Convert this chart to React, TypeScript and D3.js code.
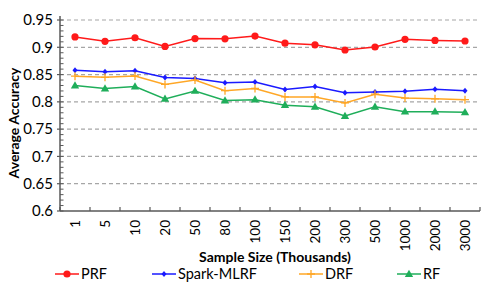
import React from 'react'
import * as d3 from 'd3'

const categories = ['1', '5', '10', '20', '50', '80', '100', '150', '200', '300', '500', '1000', '2000', '3000']
const prf = [0.919, 0.911, 0.9175, 0.9015, 0.916, 0.9155, 0.9205, 0.9075, 0.9045, 0.895, 0.9005, 0.9145, 0.9125, 0.9115]
const sparkMlrf = [0.858, 0.855, 0.857, 0.8445, 0.843, 0.835, 0.8365, 0.8225, 0.828, 0.8165, 0.818, 0.8195, 0.823, 0.8205]
const drf = [0.847, 0.845, 0.8475, 0.832, 0.84, 0.8205, 0.8245, 0.809, 0.809, 0.798, 0.814, 0.807, 0.8055, 0.804]
const rf = [0.83, 0.8245, 0.828, 0.8055, 0.82, 0.8025, 0.804, 0.794, 0.791, 0.774, 0.791, 0.782, 0.782, 0.781]
const yTicks = [0.6, 0.65, 0.7, 0.75, 0.8, 0.85, 0.9, 0.95]

const series = [
  { name: 'PRF', values: prf, color: '#ff1a1a', marker: 'circle' },
  { name: 'Spark-MLRF', values: sparkMlrf, color: '#1a1aff', marker: 'diamond' },
  { name: 'DRF', values: drf, color: '#ffa726', marker: 'plus' },
  { name: 'RF', values: rf, color: '#1fae5a', marker: 'triangle' },
]
const legendX = [55, 152, 299, 397]

const font = 'Lato, "Open Sans", sans-serif'

const Marker = ({ type, x, y, color }: { type: string; x: number; y: number; color: string }) => {
  if (type === 'circle') return <circle cx={x} cy={y} r={3.6} fill={color} />
  if (type === 'diamond')
    return <path d={`M${x},${y - 3}L${x + 2.5},${y}L${x},${y + 3}L${x - 2.5},${y}Z`} fill={color} />
  if (type === 'plus')
    return <path d={`M${x - 4},${y}H${x + 4}M${x},${y - 4}V${y + 4}`} stroke={color} strokeWidth={1.3} />
  return <path d={d3.symbol(d3.symbolTriangle, 30)()!} transform={`translate(${x},${y + 0.5})`} fill={color} />
}

export default function App() {
  const W = 485
  const H = 286
  const left = 60
  const right = 480
  const top = 20
  const bottom = 211
  const x = d3.scaleBand().domain(categories).range([left, right])
  const y = d3.scaleLinear().domain([0.6, 0.95]).range([bottom, top])
  const minor = d3.range(0.6, 0.9501, 0.01)
  const line = d3
    .line<number>()
    .x((_, i) => x(categories[i])! + x.bandwidth() / 2)
    .y((d) => y(d))

  return (
    <svg width={W} height={H} style={{ position: 'absolute', left: 0, top: 0 }} fontFamily={font}>
      {yTicks.slice(1).map((t) => (
        <line key={t} x1={left} x2={right} y1={y(t)} y2={y(t)} stroke="#a6a6a6" strokeWidth={1.2} strokeDasharray="4,3" />
      ))}
      {minor.map((t, i) => (
        <line key={i} x1={left} x2={left + 3.5} y1={y(t)} y2={y(t)} stroke="#595959" strokeWidth={1} />
      ))}
      {yTicks.map((t) => (
        <g key={t}>
          <line x1={left - 3} x2={left} y1={y(t)} y2={y(t)} stroke="#595959" strokeWidth={1.2} />
          <text x={left - 7} y={y(t)} dy="0.35em" textAnchor="end" fontSize={15} fill="#000">
            {t}
          </text>
        </g>
      ))}
      <line x1={left} x2={left} y1={top - 4} y2={bottom} stroke="#595959" strokeWidth={1.5} />
      <line x1={left} x2={right} y1={bottom} y2={bottom} stroke="#595959" strokeWidth={1.5} />
      {categories.concat(['']).map((c, i) => {
        const tx = left + i * x.bandwidth()
        return <line key={i} x1={tx} x2={tx} y1={bottom} y2={bottom - 4} stroke="#595959" strokeWidth={1.2} />
      })}
      {categories.map((c) => {
        const cx = x(c)! + x.bandwidth() / 2
        return (
          <text key={c} transform={`translate(${cx + 5},${220}) rotate(-90)`} textAnchor="end" fontSize={13.5} fill="#000">
            {c}
          </text>
        )
      })}
      <text transform={`translate(19,123) rotate(-90)`} textAnchor="middle" fontSize={14} fontWeight="bold" fill="#000">
        Average Accuracy
      </text>
      <text x={275} y={261.5} textAnchor="middle" fontSize={14} fontWeight="bold" fill="#000">
        Sample Size (Thousands)
      </text>
      {series.map((s) => (
        <g key={s.name}>
          <path d={line(s.values)!} fill="none" stroke={s.color} strokeWidth={1.5} />
          {s.values.map((v, i) => (
            <Marker key={i} type={s.marker} x={x(categories[i])! + x.bandwidth() / 2} y={y(v)} color={s.color} />
          ))}
        </g>
      ))}
      {series.map((s, i) => {
        const lx = legendX[i]
        return (
          <g key={s.name}>
            <line x1={lx} x2={lx + 24} y1={274} y2={274} stroke={s.color} strokeWidth={1.5} />
            <Marker type={s.marker} x={lx + 12} y={274} color={s.color} />
            <text x={lx + 26} y={274} dy="0.35em" fontSize={14.5} fill="#000">
              {s.name}
            </text>
          </g>
        )
      })}
    </svg>
  )
}
